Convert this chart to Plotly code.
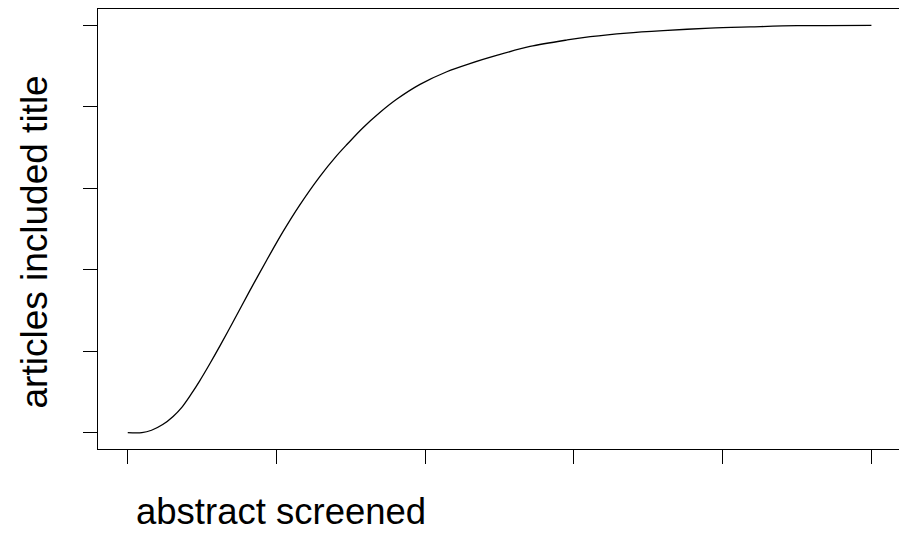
import plotly.graph_objects as go

# fraction of abstracts screened (x) vs fraction of included articles found (y)
abstract_screened = [0.000, 0.019, 0.032, 0.047, 0.061, 0.073, 0.085, 0.097, 0.110, 0.124,
                     0.141, 0.164, 0.187, 0.209, 0.231, 0.258, 0.281, 0.295, 0.316, 0.339,
                     0.362, 0.393, 0.429, 0.460, 0.496, 0.541, 0.591, 0.622, 0.671, 0.720,
                     0.783, 0.837, 0.900, 1.000]
articles_included = [0.000, 0.000, 0.006, 0.020, 0.040, 0.063, 0.094, 0.128, 0.168, 0.213,
                     0.270, 0.348, 0.424, 0.494, 0.558, 0.628, 0.680, 0.708, 0.748, 0.786,
                     0.819, 0.855, 0.886, 0.906, 0.926, 0.948, 0.964, 0.972, 0.981, 0.987,
                     0.993, 0.996, 0.999, 1.000]
x_ticks = [0, 0.2, 0.4, 0.6, 0.8, 1.0]
y_ticks = [0, 0.2, 0.4, 0.6, 0.8, 1.0]

fig = go.Figure()
fig.add_trace(go.Scatter(x=abstract_screened, y=articles_included, mode="lines",
                         line=dict(color="black", width=1.3, shape="spline", smoothing=0.9),
                         hoverinfo="skip", showlegend=False))

font_family = "Liberation Sans, Arial, Helvetica, sans-serif"

fig.update_layout(
    width=899, height=534,
    margin=dict(l=98, r=0, t=9, b=85),
    paper_bgcolor="white", plot_bgcolor="white",
    font=dict(family=font_family, color="black"),
    xaxis=dict(range=[-0.04, 1.0371], tickvals=x_ticks, showticklabels=False,
               ticks="outside", ticklen=14, tickwidth=1, tickcolor="black",
               showline=True, linecolor="black", linewidth=1, mirror=True,
               showgrid=False, zeroline=False, fixedrange=True),
    yaxis=dict(range=[-0.04, 1.04], tickvals=y_ticks, showticklabels=False,
               ticks="outside", ticklen=14, tickwidth=1, tickcolor="black",
               showline=True, linecolor="black", linewidth=1, mirror=False,
               showgrid=False, zeroline=False, fixedrange=True),
    annotations=[
        dict(text="abstract screened", xref="paper", yref="paper",
             x=0.045, y=-0.143, xanchor="left", yanchor="middle",
             showarrow=False, font=dict(size=36.5, family=font_family, color="black")),
        dict(text="articles included title", xref="paper", yref="paper",
             x=-0.079, y=0.471, xanchor="center", yanchor="middle", textangle=-90,
             showarrow=False, font=dict(size=37, family=font_family, color="black")),
    ],
)

fig.write_html("out.html", config={"displayModeBar": False},
               post_script="document.body.style.margin='0';document.body.style.overflow='hidden';")
